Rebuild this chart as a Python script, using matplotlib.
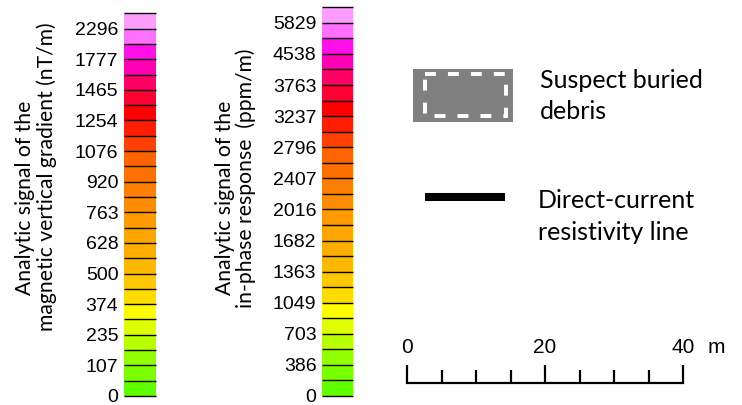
import numpy as np
import matplotlib
matplotlib.use("Agg")
import matplotlib.pyplot as plt
from matplotlib.patches import Rectangle

# --- Data ---
seg_colors = ["#60ff00", "#78ff00", "#90ff00", "#b8ff00", "#ddff00",
              "#ffff00", "#ffdc00", "#ffc800", "#ffb800", "#ffae00",
              "#ffa500", "#ff9a00", "#ff8c00", "#ff8000", "#ff7000",
              "#ff6400", "#ff4000", "#ff1e00", "#ff0000", "#ff0032",
              "#ff0064", "#ff00b4", "#ff10e8", "#ff70ff", "#ff9cff"]
mag_labels = [0, 107, 235, 374, 500, 628, 763, 920, 1076, 1254, 1465, 1777, 2296]
inphase_labels = [0, 386, 703, 1049, 1363, 1682, 2016, 2407, 2796, 3237, 3763, 4538, 5829]
mag_title = ["Analytic signal of the", "magnetic vertical gradient (nT/m)"]
inphase_title = ["Analytic signal of the", "in-phase response  (ppm/m)"]
scale_ticks = [0, 5, 10, 15, 20, 25, 30, 35, 40]
scale_labels = {0: "0", 20: "20", 40: "40"}

W, H = 742, 405
TICK_FONT = "Liberation Sans"
TEXT_FONT = "Lato"

fig = plt.figure(figsize=(W / 100, H / 100), dpi=100)


def px_axes(x0, y0, x1, y1):
    # axes placed by pixel box, origin at top left
    return fig.add_axes([x0 / W, 1 - y1 / H, (x1 - x0) / W, (y1 - y0) / H])


def draw_bar(ax, labels):
    n = len(seg_colors)
    ax.bar(np.zeros(n), np.ones(n), bottom=np.arange(n), width=1,
           align="edge", color=seg_colors, linewidth=0)
    ax.hlines(np.arange(n + 1), 0, 1, color="black", lw=1.0, clip_on=False)
    ax.set_xlim(0, 1)
    ax.set_ylim(0, n)
    ax.set_xticks([])
    ax.set_yticks(np.arange(0, n + 1, 2))
    ax.set_yticklabels([str(v) for v in labels], family=TICK_FONT, fontsize=14)
    ax.tick_params(axis="y", length=0, pad=4)
    for s in ax.spines.values():
        s.set_visible(False)


# --- Colour bars ---
ax1 = px_axes(124, 13.3, 156, 396)
draw_bar(ax1, mag_labels)
ax2 = px_axes(322, 7.3, 353, 396)
draw_bar(ax2, inphase_labels)

fig.text(25 / W, 1 - 197.5 / H, mag_title[0], rotation=90, ha="center",
         va="center", family=TEXT_FONT, fontsize=15.2)
fig.text(47 / W, 1 - 176.5 / H, mag_title[1], rotation=90, ha="center",
         va="center", family=TEXT_FONT, fontsize=15.2)
fig.text(225 / W, 1 - 197.5 / H, inphase_title[0], rotation=90, ha="center",
         va="center", family=TEXT_FONT, fontsize=15.2)
fig.text(246 / W, 1 - 178.5 / H, inphase_title[1], rotation=90, ha="center",
         va="center", family=TEXT_FONT, fontsize=15.2)

# --- Legend (pixel coordinates) ---
lg = px_axes(0, 0, W, H)
lg.set_xlim(0, W)
lg.set_ylim(H, 0)
lg.axis("off")
lg.patch.set_alpha(0)

lg.add_patch(Rectangle((413, 69), 100, 53, facecolor="#808080", edgecolor="none"))
box = Rectangle((425, 73.5), 81, 42.5, facecolor="none", edgecolor="white",
                lw=2.8, linestyle=(0, (2.8, 3.1)))
lg.add_patch(box)
lg.text(540, 88, "Suspect buried", family=TEXT_FONT, fontsize=18, va="baseline")
lg.text(540, 119, "debris", family=TEXT_FONT, fontsize=18, va="baseline")

lg.plot([425, 505], [197, 197], color="black", lw=5.8, solid_capstyle="butt")
lg.text(538, 208, "Direct-current", family=TEXT_FONT, fontsize=18, va="baseline")
lg.text(538, 240, "resistivity line", family=TEXT_FONT, fontsize=18, va="baseline")

# --- Scale bar (metres) ---
sx0, sx1 = 407, 683
sc = px_axes(sx0 - 20, 330, sx1 + 50, 395)
m_per_px = 40 / (sx1 - sx0)
sc.set_xlim(-20 * m_per_px, 40 + 50 * m_per_px)
sc.set_ylim(395, 330)
sc.axis("off")
sc.patch.set_alpha(0)
sc.plot([scale_ticks[0], scale_ticks[-1]], [383, 383], color="black", lw=1.6,
        solid_capstyle="projecting")
for t in scale_ticks:
    top = 365 if t in scale_labels else 370
    sc.plot([t, t], [383, top], color="black", lw=1.6, solid_capstyle="butt")
for t, lab in scale_labels.items():
    sc.text(t, 353, lab, ha="center", va="baseline", family=TICK_FONT, fontsize=15)
sc.text(40 + 33 * m_per_px, 353, "m", ha="center", va="baseline",
        family=TICK_FONT, fontsize=15)

fig.savefig("out.png", dpi=100)
